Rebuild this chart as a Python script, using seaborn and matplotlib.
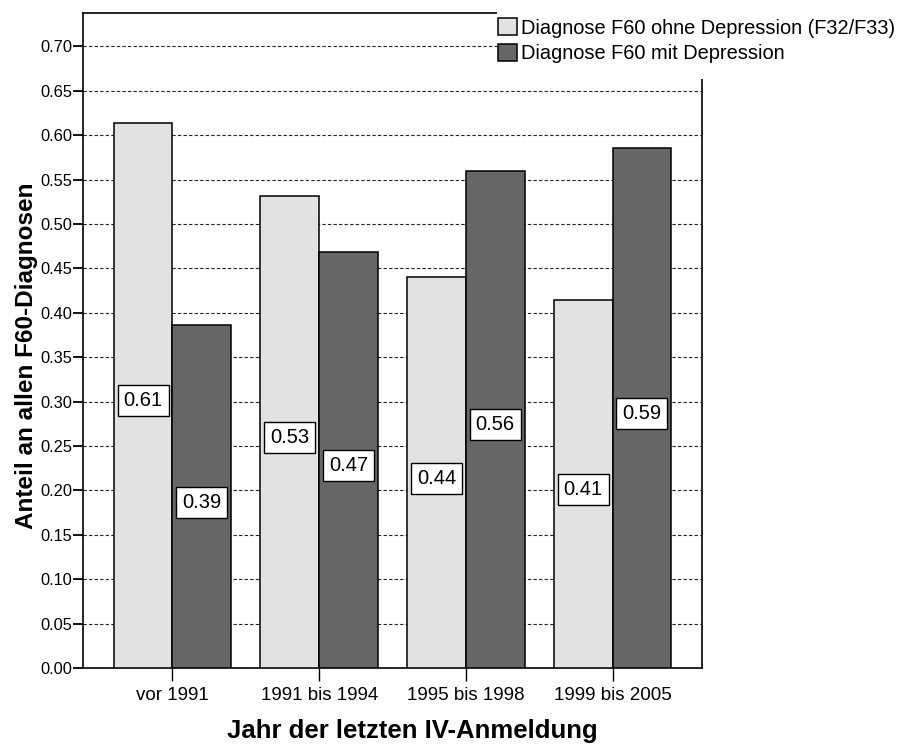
import matplotlib
matplotlib.use("Agg")
import matplotlib.pyplot as plt
from matplotlib.patches import Rectangle
import seaborn as sns
import pandas as pd

categories = ["vor 1991", "1991 bis 1994", "1995 bis 1998", "1999 bis 2005"]
series_names = ["Diagnose F60 ohne Depression (F32/F33)", "Diagnose F60 mit Depression"]
ohne_depression = [0.614, 0.532, 0.440, 0.414]
mit_depression = [0.386, 0.468, 0.560, 0.586]
y_ticks = [0.00, 0.05, 0.10, 0.15, 0.20, 0.25, 0.30, 0.35, 0.40, 0.45, 0.50, 0.55, 0.60, 0.65, 0.70]

df = pd.DataFrame({
    "Jahr": categories * 2,
    "Gruppe": [series_names[0]] * 4 + [series_names[1]] * 4,
    "Anteil": ohne_depression + mit_depression,
})

sns.set_theme(style="white")
plt.rcParams["font.family"] = ["Liberation Sans", "DejaVu Sans"]
plt.rcParams["text.color"] = "black"
plt.rcParams["axes.labelcolor"] = "black"

fig = plt.figure(figsize=(8.97, 7.44), dpi=100)
ax = fig.add_axes([83 / 897, 1 - 668 / 744, (702 - 83) / 897, (668 - 13) / 744])

palette = {series_names[0]: "#e2e2e2", series_names[1]: "#666666"}
sns.barplot(data=df, x="Jahr", y="Anteil", hue="Gruppe", order=categories,
            hue_order=series_names, palette=palette, width=0.8,
            edgecolor="black", linewidth=1.1, saturation=1, ax=ax, zorder=3)

for cont in ax.containers:
    for bar in cont:
        h = bar.get_height()
        ax.annotate(f"{h:.2f}", (bar.get_x() + bar.get_width() / 2, h / 2),
                    xytext=(0, -4), textcoords="offset points", ha="center", va="center",
                    fontsize=14.5, color="black", zorder=5,
                    bbox=dict(boxstyle="square,pad=0.3", facecolor="white", edgecolor="black", linewidth=1.0))

ax.set_ylim(0, 0.7375)
ax.set_xlim(-0.61, 3.61)
ax.set_yticks(y_ticks)
ax.set_yticklabels([f"{v:.2f}" for v in y_ticks], fontsize=11.8)
ax.tick_params(axis="x", labelsize=13.5, length=9, width=1.0, direction="out", bottom=True, pad=5, colors="black")
ax.tick_params(axis="y", length=7, width=1.3, direction="out", left=True, pad=1, colors="black")
ax.yaxis.grid(True, linestyle=(0, (3, 2)), color="#222222", linewidth=0.8, zorder=0)
ax.xaxis.grid(False)
ax.set_axisbelow(True)
for s in ax.spines.values():
    s.set_color("black")
    s.set_linewidth(1.2)

ax.set_xlabel("Jahr der letzten IV-Anmeldung", fontsize=18.5, fontweight="bold", color="black")
ax.set_ylabel("Anteil an allen F60-Diagnosen", fontsize=17.5, fontweight="bold", color="black")
ax.xaxis.set_label_coords((412 - 83) / 619, -(731 - 668) / 655)
ax.yaxis.set_label_coords(-(83 - 27) / 619, (668 - 356) / 655)
ax.xaxis.label.set_va("center")
ax.yaxis.label.set_va("center")

handles, labels = ax.get_legend_handles_labels()
ax.get_legend().remove()

fig.add_artist(Rectangle((497 / 897, 1 - 79 / 744), 1 - 497 / 897, 79 / 744,
                         transform=fig.transFigure, facecolor="white", edgecolor="none", zorder=10))
leg = fig.legend(handles, labels, loc="upper left", bbox_to_anchor=(498 / 897, 1 - 18 / 744),
                 frameon=False, fontsize=14.4, handlelength=0.95, handleheight=0.95,
                 handletextpad=0.2, labelspacing=0.3, borderpad=0, borderaxespad=0)
for t in leg.get_texts():
    t.set_color("black")
leg.set_zorder(11)

fig.savefig("out.png", dpi=100)
